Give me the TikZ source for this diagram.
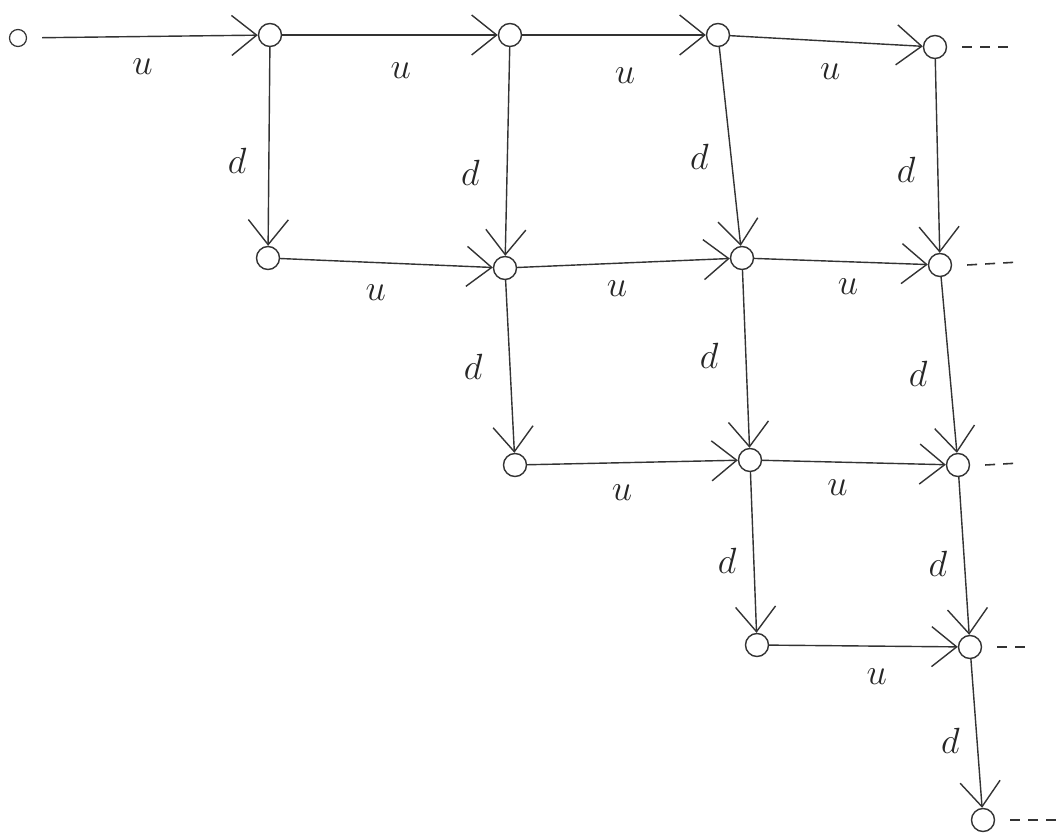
\documentclass[tikz,border=0pt]{standalone}
\usepackage{amsmath}
\usetikzlibrary{arrows.meta, positioning}

\begin{document}
\begin{tikzpicture}[
    vertex/.style={draw, circle, inner sep=0pt, minimum size=0.46cm, line width=0.8pt, black!80},
    origin/.style={draw, circle, inner sep=0pt, minimum size=0.34cm, line width=0.7pt, black!80},
    arrow/.style={-{Straight Barb[length=5mm, width=8mm]}, line width=0.8pt, black!80},
    lbl/.style={font=\huge, inner sep=1pt, black!85},
    more/.style={line width=0.9pt, black!80, dash pattern=on 2mm off 1.6mm}
]
    \useasboundingbox (0,0) rectangle (21.26,16.7);

    % Start
    \node[origin] (o) at (0.36,15.94) {};

    % Row 1
    \node[vertex] (a1) at (5.40,16.00) {};
    \node[vertex] (a2) at (10.20,16.00) {};
    \node[vertex] (a3) at (14.36,16.00) {};
    \node[vertex] (a4) at (18.70,15.76) {};

    % Row 2
    \node[vertex] (b1) at (5.36,11.54) {};
    \node[vertex] (b2) at (10.10,11.34) {};
    \node[vertex] (b3) at (14.84,11.54) {};
    \node[vertex] (b4) at (18.80,11.40) {};

    % Row 3
    \node[vertex] (c2) at (10.30,7.40) {};
    \node[vertex] (c3) at (15.00,7.50) {};
    \node[vertex] (c4) at (19.16,7.40) {};

    % Row 4
    \node[vertex] (d3) at (15.14,3.80) {};
    \node[vertex] (d4) at (19.40,3.76) {};

    % Row 5
    \node[vertex] (e4) at (19.66,0.30) {};

    % u steps
    \draw[arrow, shorten <=3mm] (o) -- node[lbl, pos=.5, below=4mm] {$u$} (a1);
    \draw[arrow] (a1) -- node[lbl, pos=.55, below=5mm] {$u$} (a2);
    \draw[arrow] (a2) -- node[lbl, pos=.56, below=6mm] {$u$} (a3);
    \draw[arrow] (a3) -- node[lbl, pos=.52, below=4mm] {$u$} (a4);
    \draw[arrow] (b1) -- node[lbl, pos=.45, below=4mm] {$u$} (b2);
    \draw[arrow] (b2) -- node[lbl, pos=.47, below=3mm] {$u$} (b3);
    \draw[arrow] (b3) -- node[lbl, pos=.54, below=3mm] {$u$} (b4);
    \draw[arrow] (c2) -- node[lbl, pos=.45, below=4mm] {$u$} (c3);
    \draw[arrow] (c3) -- node[lbl, pos=.41, below=3mm] {$u$} (c4);
    \draw[arrow] (d3) -- node[lbl, pos=.57, below=4mm] {$u$} (d4);

    % d steps
    \draw[arrow] (a1) -- node[lbl, pos=.57, left=4mm] {$d$} (b1);
    \draw[arrow] (a2) -- node[lbl, pos=.6, left=5mm] {$d$} (b2);
    \draw[arrow] (a3) -- node[lbl, pos=.55, left=4mm] {$d$} (b3);
    \draw[arrow] (a4) -- node[lbl, pos=.57, left=4mm] {$d$} (b4);
    \draw[arrow] (b2) -- node[lbl, pos=.5, left=5mm] {$d$} (c2);
    \draw[arrow] (b3) -- node[lbl, pos=.48, left=5mm] {$d$} (c3);
    \draw[arrow] (b4) -- node[lbl, pos=.55, left=4mm] {$d$} (c4);
    \draw[arrow] (c3) -- node[lbl, pos=.55, left=3mm] {$d$} (d3);
    \draw[arrow] (c4) -- node[lbl, pos=.55, left=3mm] {$d$} (d4);
    \draw[arrow] (d4) -- node[lbl, pos=.55, left=3mm] {$d$} (e4);

    % continuation
    \coordinate (a5) at (20.25,15.76);
    \coordinate (b5) at (20.40,11.46);
    \coordinate (c5) at (20.40,7.44);
    \coordinate (d5) at (20.60,3.76);
    \coordinate (e5) at (21.26,0.30);
    \draw[more] ([xshift=3mm]a4.east) -- (a5);
    \draw[more] ([xshift=3mm]b4.east) -- (b5);
    \draw[more] ([xshift=3mm]c4.east) -- (c5);
    \draw[more] ([xshift=3mm]d4.east) -- (d5);
    \draw[more] ([xshift=3mm]e4.east) -- (e5);
\end{tikzpicture}
\end{document}
